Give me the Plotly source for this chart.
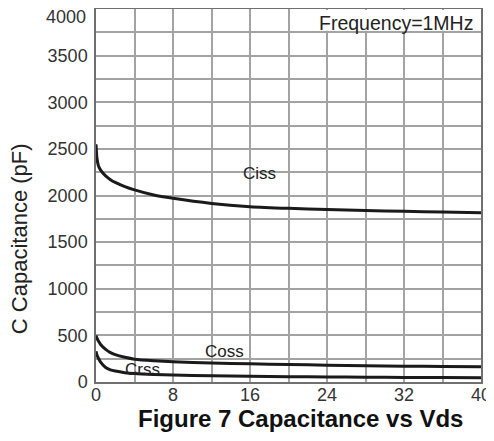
import plotly.graph_objects as go

vds = [0, 0.1, 0.25, 0.5, 1, 1.5, 2, 3, 4, 6, 8, 12, 16, 20, 24, 28, 32, 36, 40]
ciss = [2550, 2400, 2320, 2270, 2210, 2170, 2140, 2095, 2060, 2005, 1970, 1915, 1880, 1862, 1850, 1840, 1830, 1822, 1815]
coss = [500, 470, 440, 400, 350, 315, 293, 265, 245, 228, 217, 203, 195, 188, 180, 175, 170, 166, 163]
crss = [330, 290, 255, 210, 155, 130, 117, 100, 90, 80, 74, 66, 61, 57, 54, 51, 49, 47, 46]

x_ticks = [0, 8, 16, 24, 32, 40]
y_ticks = [0, 500, 1000, 1500, 2000, 2500, 3000, 3500]
y_top_label = "4000"

fig = go.Figure()
for name, ys in [("Ciss", ciss), ("Coss", coss), ("Crss", crss)]:
    fig.add_trace(go.Scatter(x=vds, y=ys, mode="lines", name=name,
                             line=dict(color="#1a1a1a", width=3, shape="spline", smoothing=0.6)))

font_main = "Liberation Sans, Arial, sans-serif"
grid_color = "#a3a3a3"

# page body has an 8px margin, so the figure is offset by (8, 8) in the window
fig.update_layout(
    width=486, height=425,
    margin=dict(l=88, r=13, t=1, b=51, autoexpand=False),
    paper_bgcolor="white", plot_bgcolor="white",
    showlegend=False,
    font=dict(family=font_main, size=18, color="#333"),
    xaxis=dict(range=[0, 40], tickvals=x_ticks, ticktext=[str(v) for v in x_ticks],
               showgrid=True, gridcolor=grid_color, gridwidth=1.5,
               minor=dict(dtick=4, tick0=0, showgrid=True, gridcolor=grid_color, gridwidth=1.5),
               showline=True, linecolor="#707070", linewidth=1.5, mirror=True,
               zeroline=False, ticks="", automargin=False,
               ticklabeloverflow="allow", ticklabelstandoff=-4),
    yaxis=dict(range=[0, 4000], tickvals=y_ticks, ticktext=[str(v) for v in y_ticks],
               showgrid=True, gridcolor=grid_color, gridwidth=1.5,
               minor=dict(dtick=250, tick0=0, showgrid=True, gridcolor=grid_color, gridwidth=1.5),
               showline=True, linecolor="#707070", linewidth=1.5, mirror=True,
               zeroline=False, ticks="", automargin=False,
               ticklabeloverflow="allow", ticklabelstandoff=3),
)

# top y tick label, nudged down so it stays inside the page
fig.add_annotation(x=-0.0208, y=1, xref="paper", yref="paper", xanchor="right", yanchor="middle",
                   yshift=-8, text=y_top_label, showarrow=False, font=dict(size=18, color="#333"))

# white box behind the frequency note
fig.add_shape(type="rect", xref="paper", yref="paper", x0=0.516, x1=0.997, y0=0.942, y1=0.997,
              fillcolor="white", line=dict(width=0), layer="above")

fig.add_annotation(x=-0.2, y=0.383, xref="paper", yref="paper", textangle=-90,
                   xanchor="center", yanchor="middle",
                   text="C Capacitance (pF)", showarrow=False, font=dict(size=22, color="#222"))
fig.add_annotation(x=0.53, y=-0.099, xref="paper", yref="paper",
                   xanchor="center", yanchor="middle",
                   text="<b>Figure 7 Capacitance vs Vds</b>", showarrow=False,
                   font=dict(size=24, color="#111"))
fig.add_annotation(x=0.984, y=0.9625, xref="paper", yref="paper", xanchor="right", yanchor="middle",
                   text="Frequency=1MHz", showarrow=False, font=dict(size=19.5, color="#222"))
fig.add_annotation(x=17, y=2240, text="Ciss", showarrow=False, font=dict(size=17, color="#222"))
fig.add_annotation(x=13.35, y=332, text="Coss", showarrow=False, font=dict(size=17, color="#222"))
fig.add_annotation(x=4.8, y=139, text="Crss", showarrow=False, font=dict(size=17, color="#222"))

fig.write_html("out.html")
